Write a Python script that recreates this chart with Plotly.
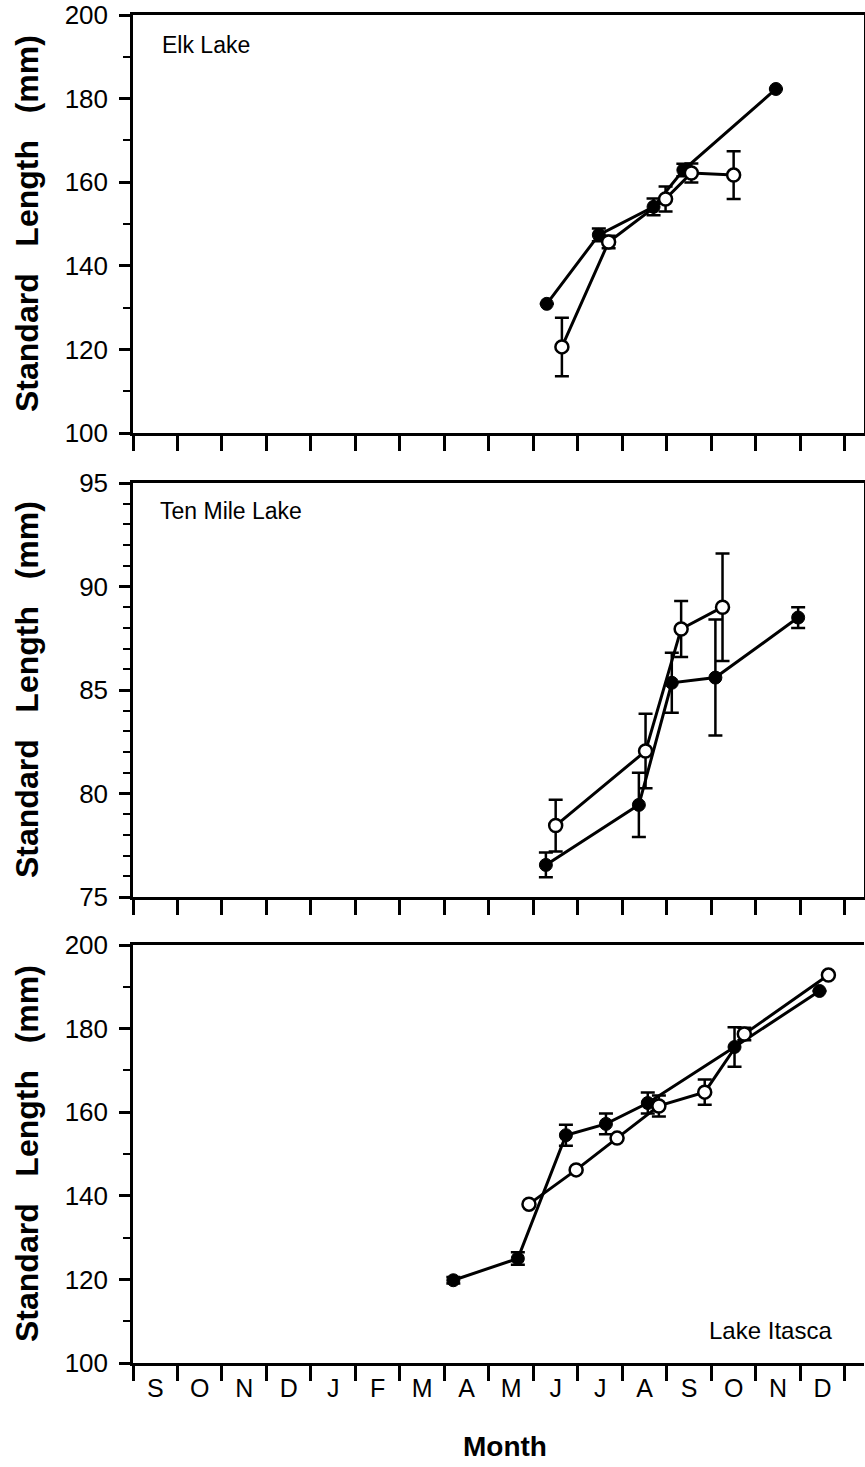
import plotly.graph_objects as go
from plotly.subplots import make_subplots

# x = months since 1 September (0 = start of Sep, 12 = start of next Sep)
month_labels = ["S", "O", "N", "D", "J", "F", "M", "A", "M", "J", "J", "A", "S", "O", "N", "D"]

# Elk Lake
elk_filled_x = [9.3, 10.47, 11.7, 12.37, 14.45]
elk_filled_y = [130.9, 147.4, 154.1, 162.9, 182.3]
elk_filled_e = [0.0, 1.5, 2.0, 1.5, 0.0]
elk_open_x = [9.64, 10.69, 11.97, 12.55, 13.5]
elk_open_y = [120.6, 145.7, 156.0, 162.2, 161.7]
elk_open_e = [7.0, 1.5, 3.0, 2.3, 5.7]

# Ten Mile Lake
ten_filled_x = [9.28, 11.37, 12.11, 13.09, 14.95]
ten_filled_y = [76.55, 79.45, 85.35, 85.6, 88.5]
ten_filled_e = [0.6, 1.55, 1.45, 2.8, 0.5]
ten_open_x = [9.5, 11.52, 12.32, 13.25]
ten_open_y = [78.45, 82.05, 87.95, 89.0]
ten_open_e = [1.25, 1.8, 1.35, 2.6]

# Lake Itasca
ita_filled_x = [7.2, 8.65, 9.73, 10.63, 11.57, 13.52, 15.43]
ita_filled_y = [119.8, 125.0, 154.5, 157.2, 162.2, 175.6, 189.0]
ita_filled_e = [0.8, 1.5, 2.5, 2.5, 2.5, 4.7, 0.0]
ita_open_x = [8.9, 9.96, 10.88, 11.82, 12.85, 13.74, 15.63]
ita_open_y = [138.0, 146.2, 153.8, 161.5, 164.8, 178.7, 192.8]
ita_open_e = [0.0, 0.0, 0.0, 2.5, 3.0, 1.5, 0.0]

W, H = 865, 1467
FONT = "Liberation Sans, Arial, Helvetica, sans-serif"

fig = make_subplots(rows=3, cols=1)

panels = [
    (1, elk_filled_x, elk_filled_y, elk_filled_e, elk_open_x, elk_open_y, elk_open_e),
    (2, ten_filled_x, ten_filled_y, ten_filled_e, ten_open_x, ten_open_y, ten_open_e),
    (3, ita_filled_x, ita_filled_y, ita_filled_e, ita_open_x, ita_open_y, ita_open_e),
]

for row, fx, fy, fe, ox, oy, oe in panels:
    fig.add_trace(go.Scatter(
        x=fx, y=fy, mode="lines+markers",
        line=dict(color="black", width=3),
        marker=dict(symbol="circle", size=13, color="black", line=dict(color="black", width=1)),
        error_y=dict(type="data", array=fe, visible=True, color="black", thickness=2.5, width=7),
        showlegend=False), row=row, col=1)
    fig.add_trace(go.Scatter(
        x=ox, y=oy, mode="lines+markers",
        line=dict(color="black", width=3),
        marker=dict(symbol="circle", size=13, color="white", line=dict(color="black", width=2.5)),
        error_y=dict(type="data", array=oe, visible=True, color="black", thickness=2.5, width=7),
        showlegend=False), row=row, col=1)

x_dom = [133 / W, 864 / W]
y_doms = [(15, 433), (483, 897), (945, 1363)]
y_ranges = [(100, 200, 20, 10), (75, 95, 5, 1), (100, 200, 20, 10)]

for i in range(3):
    top, bot = y_doms[i]
    dom = [1 - bot / H, 1 - top / H]
    lo, hi, dt, mdt = y_ranges[i]
    xa = "xaxis" if i == 0 else f"xaxis{i+1}"
    ya = "yaxis" if i == 0 else f"yaxis{i+1}"
    fig.layout[xa].update(
        domain=x_dom, range=[0, 16.43], automargin=False,
        showline=True, linecolor="black", linewidth=2.5,
        mirror=True, showgrid=False, zeroline=False,
        tickvals=[k + 0.5 for k in range(16)],
        ticktext=month_labels if i == 2 else [""] * 16,
        ticks="outside", ticklen=0, tickcolor="black",
        ticklabelstandoff=1,
        tickfont=dict(family=FONT, size=25, color="black"),
        minor=dict(tickvals=list(range(17)), ticks="outside", ticklen=15,
                   tickwidth=2.5, tickcolor="black", showgrid=False),
    )
    fig.layout[ya].update(
        domain=dom, range=[lo, hi], automargin=False,
        showline=True, linecolor="black", linewidth=2.5,
        mirror=(i < 2), showgrid=False, zeroline=False,
        tickvals=list(range(lo, hi + 1, dt)),
        ticks="outside", ticklen=11, tickwidth=2.5, tickcolor="black",
        ticklabelstandoff=6,
        tickfont=dict(family=FONT, size=26, color="black"),
        minor=dict(dtick=mdt, tick0=lo, ticks="outside", ticklen=7,
                   tickwidth=2, tickcolor="black", showgrid=False),
    )
    # y title
    fig.add_annotation(
        x=27 / W, y=1 - ((top + bot) / 2) / H, xref="paper", yref="paper",
        text="<b>Standard   Length   (mm)</b>", textangle=-90, showarrow=False,
        font=dict(family=FONT, size=32, color="black"),
        xanchor="center", yanchor="middle")

fig.add_annotation(x=160 / W, y=1 - 45 / H, xref="paper", yref="paper",
                   text="Elk Lake", showarrow=False, xanchor="left", yanchor="middle",
                   font=dict(family=FONT, size=23, color="black"))
fig.add_annotation(x=158 / W, y=1 - 511 / H, xref="paper", yref="paper",
                   text="Ten Mile Lake", showarrow=False, xanchor="left", yanchor="middle",
                   font=dict(family=FONT, size=23, color="black"))
fig.add_annotation(x=834 / W, y=1 - 1330 / H, xref="paper", yref="paper",
                   text="Lake Itasca", showarrow=False, xanchor="right", yanchor="middle",
                   font=dict(family=FONT, size=24, color="black"))
fig.add_annotation(x=505 / W, y=1 - 1446 / H, xref="paper", yref="paper",
                   text="<b>Month</b>", showarrow=False, xanchor="center", yanchor="middle",
                   font=dict(family=FONT, size=28, color="black"))

fig.update_layout(
    width=W, height=H,
    margin=dict(l=0, r=0, t=0, b=0),
    paper_bgcolor="white", plot_bgcolor="white",
    font=dict(family=FONT, color="black"),
)

fig.write_html("out.html")
